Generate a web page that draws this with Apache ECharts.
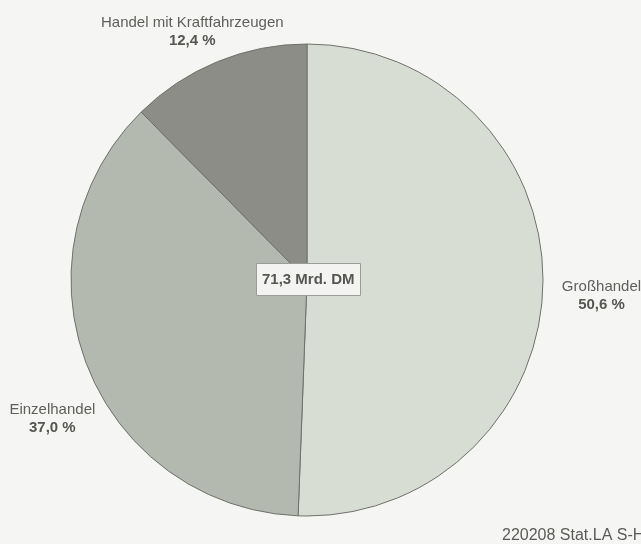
<!DOCTYPE html>
<html>
<head>
<meta charset="utf-8">
<script src="https://cdn.jsdelivr.net/npm/echarts@6/dist/echarts.min.js"></script>
<style>
  html, body { margin: 0; padding: 0; background: #f5f6f3; }
  #chart { width: 641px; height: 544px; }
</style>
</head>
<body>
<div id="chart"></div>
<script>
// Umsatz im Handel nach Wirtschaftsbereichen (Anteile in %)
const categories = ['Großhandel', 'Einzelhandel', 'Handel mit Kraftfahrzeugen'];
const shares = [50.6, 37.0, 12.4];
const sliceColors = ['#d8ddd4', '#b4b9b0', '#8c8d86'];
const totalLabel = '71,3 Mrd. DM';
const sourceNote = '220208 Stat.LA S-H';

// fine placement of the outside labels, per slice
const labelShift = [
  { dx: 7, dy: 11 },
  { dx: 11, dy: 50 },
  { dx: 75, dy: -21 }
];

const FONT = 'Liberation Sans, Arial, sans-serif';
const fmt = v => v.toFixed(1).replace('.', ',') + ' %';

const chart = echarts.init(document.getElementById('chart'), null, { renderer: 'canvas' });

chart.setOption({
  backgroundColor: '#f5f6f3',
  animation: false,
  title: [{
    text: totalLabel,
    left: 256,
    top: 263,
    padding: [9, 6, 8, 6],
    backgroundColor: '#f3f4f1',
    borderColor: '#9a9c97',
    borderWidth: 1,
    textStyle: { fontFamily: FONT, fontSize: 15, lineHeight: 16, fontWeight: 'bold', color: '#555652' }
  }, {
    text: sourceNote,
    left: 502,
    top: 527,
    padding: 0,
    textStyle: { fontFamily: FONT, fontSize: 16, lineHeight: 18, fontWeight: 'normal', color: '#5a5b57' }
  }],
  series: [{
    type: 'pie',
    center: [307, 280],
    radius: [0, 236],
    startAngle: 90,
    clockwise: true,
    silent: true,
    itemStyle: { borderColor: '#6f716c', borderWidth: 1 },
    label: {
      show: true,
      position: 'outside',
      alignTo: 'none',
      overflow: 'none',
      formatter: p => '{n|' + p.name + '}\n{v|' + fmt(p.value) + '}',
      rich: {
        n: { fontFamily: FONT, fontSize: 15, color: '#5e5f5b', align: 'center', lineHeight: 18 },
        v: { fontFamily: FONT, fontSize: 15, fontWeight: 'bold', color: '#555652', align: 'center', lineHeight: 18 }
      }
    },
    labelLine: { show: false, length: 10, length2: 0 },
    labelLayout: p => labelShift[p.dataIndex],
    data: categories.map((c, i) => ({ name: c, value: shares[i], itemStyle: { color: sliceColors[i] } }))
  }]
});
</script>
</body>
</html>
